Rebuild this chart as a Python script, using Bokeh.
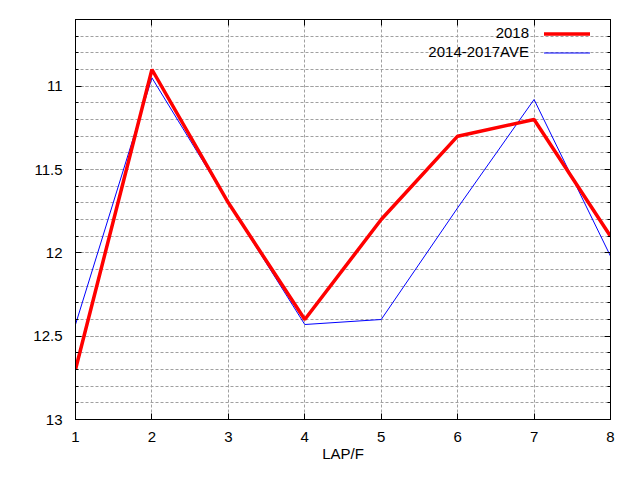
from bokeh.plotting import figure
from bokeh.models import (Range1d, FixedTicker, LinearAxis, Label, Arrow,
                          CustomJSTickFormatter)
from bokeh.embed import file_html
from bokeh.resources import INLINE

# ---- data ----
laps = [1, 2, 3, 4, 5, 6, 7, 8]
times_2018 = [12.7, 10.9, 11.7, 12.4, 11.8, 11.3, 11.2, 11.9]
times_avg = [12.43, 10.95, 11.7, 12.43, 12.4, 11.73, 11.08, 12.02]
series_names = ["2018", "2014-2017AVE"]
x_ticks = [1, 2, 3, 4, 5, 6, 7, 8]
y_ticks = [11, 11.5, 12, 12.5, 13]
y_tick_labels = ["11", "11.5", "12", "12.5", "13"]
y_minor = [round(10.6 + 0.1 * i, 1) for i in range(25)]
x_label = "LAP/F"

FONT = "Liberation Sans"
FS = "15px"

p = figure(width=624, height=464, output_backend="svg", toolbar_location=None,
           x_range=Range1d(1, 8), y_range=Range1d(13, 10.6),
           min_border_left=75, min_border_right=14, min_border_top=19,
           min_border_bottom=45, x_axis_location=None, y_axis_location=None)
p.background_fill_color = "white"
p.border_fill_color = "white"
p.outline_line_color = "black"
p.outline_line_alpha = 1.0
p.outline_line_width = 1

xt = FixedTicker(ticks=x_ticks, minor_ticks=[])
yt = FixedTicker(ticks=y_ticks, minor_ticks=y_minor)
empty = CustomJSTickFormatter(code="return ''")

def style(ax, labels=True):
    ax.axis_line_color = "black"
    ax.major_tick_line_color = "black"
    ax.minor_tick_line_color = "black"
    ax.major_tick_in = 6
    ax.major_tick_out = 0
    ax.minor_tick_in = 3
    ax.minor_tick_out = 0
    ax.major_label_text_font = FONT
    ax.major_label_text_font_size = FS
    ax.major_label_text_color = "black"
    ax.axis_label_text_font = FONT
    ax.axis_label_text_font_size = FS
    ax.axis_label_text_font_style = "normal"
    ax.axis_label_text_color = "black"
    if not labels:
        ax.formatter = empty
        ax.major_label_standoff = 0
        ax.major_label_text_font_size = "1px"

bottom = LinearAxis(ticker=xt, axis_label=x_label)
style(bottom)
bottom.major_label_standoff = 12
bottom.axis_label_standoff = 0
p.add_layout(bottom, "below")

left = LinearAxis(ticker=yt)
style(left)
left.major_label_standoff = 13
left.major_label_overrides = dict(zip(y_ticks, y_tick_labels))
p.add_layout(left, "left")

top = LinearAxis(ticker=xt)
style(top, labels=False)
p.add_layout(top, "above")

right = LinearAxis(ticker=yt)
style(right, labels=False)
p.add_layout(right, "right")

# grid
p.xgrid.ticker = xt
p.ygrid.ticker = yt
for g in (p.xgrid[0], p.ygrid[0]):
    g.grid_line_color = "#a0a0a0"
    g.grid_line_dash = "3 2"
    g.grid_line_width = 1
p.ygrid[0].minor_grid_line_color = "#a0a0a0"
p.ygrid[0].minor_grid_line_dash = "3 2"

# series
p.line(laps, times_avg, line_color="#0000ff", line_width=1)
p.line(laps, times_2018, line_color="#ff0000", line_width=3.5)

# legend (text left, sample right, as in gnuplot)
legend_rows = [(series_names[0], "#ff0000", 3.5, 387),
               (series_names[1], "#0000ff", 1, 368)]
for name, color, lw, yy in legend_rows:
    p.add_layout(Label(x=453.5, y=yy, x_units="screen", y_units="screen",
                       text=name, text_align="right", text_baseline="middle",
                       text_font=FONT, text_font_size=FS, text_color="black"))
    p.add_layout(Arrow(start=None, end=None, x_start=468.5, x_end=514.5,
                       y_start=yy - 1.5, y_end=yy - 1.5,
                       start_units="screen", end_units="screen",
                       line_color=color, line_width=lw))

open("out.html", "w").write(file_html(p, INLINE))
